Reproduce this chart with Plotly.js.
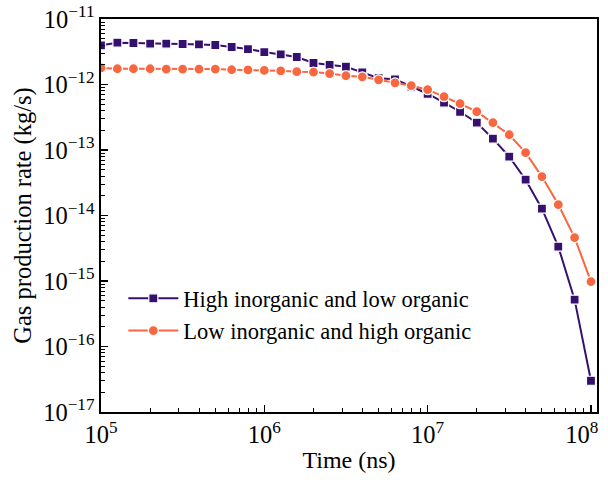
<!DOCTYPE html>
<html>
<head>
<meta charset="utf-8">
<script src="https://cdn.plot.ly/plotly-3.0.1.min.js"></script>
<style>html,body{margin:0;padding:0;background:#fff;}#chart{width:608px;height:483px;}</style>
</head>
<body>
<div id="chart"></div>
<script>
// Time points (ns): 10^(5 + 0.1k)
const timeNs = [1.0e5,1.26e5,1.58e5,2.0e5,2.51e5,3.16e5,3.98e5,5.01e5,6.31e5,7.94e5,
  1.0e6,1.26e6,1.58e6,2.0e6,2.51e6,3.16e6,3.98e6,5.01e6,6.31e6,7.94e6,
  1.0e7,1.26e7,1.58e7,2.0e7,2.51e7,3.16e7,3.98e7,5.01e7,6.31e7,7.94e7,1.0e8];

const highInorganic = [3.96e-12,4.35e-12,4.30e-12,4.20e-12,4.20e-12,4.15e-12,4.09e-12,4.01e-12,3.74e-12,3.48e-12,
  3.13e-12,2.88e-12,2.63e-12,2.13e-12,2.00e-12,1.87e-12,1.53e-12,1.25e-12,1.20e-12,9.25e-13,
  7.23e-13,5.27e-13,3.84e-13,2.61e-13,1.49e-13,7.91e-14,3.52e-14,1.27e-14,3.34e-15,5.19e-16,3.0e-17];

const lowInorganic = [1.79e-12,1.74e-12,1.74e-12,1.74e-12,1.72e-12,1.72e-12,1.72e-12,1.72e-12,1.68e-12,1.67e-12,
  1.64e-12,1.62e-12,1.57e-12,1.55e-12,1.47e-12,1.36e-12,1.31e-12,1.18e-12,1.06e-12,9.6e-13,
  8.33e-13,6.52e-13,5.09e-13,3.84e-13,2.61e-13,1.71e-13,9.1e-14,3.93e-14,1.47e-14,4.61e-15,9.8e-16];

const seriesNames = ["High inorganic and low organic", "Low inorganic and high organic"];

// Tick positions and labels
const xTickVals = [1e5, 1e6, 1e7, 1e8];
const xTickText = ["10<sup>5</sup>", "10<sup>6</sup>", "10<sup>7</sup>", "10<sup>8</sup>\u00A0\u00A0\u00A0"];
const yTickVals = [1e-17, 1e-16, 1e-15, 1e-14, 1e-13, 1e-12, 1e-11];
const yTickText = ["10<sup>\u221217</sup>", "10<sup>\u221216</sup>", "10<sup>\u221215</sup>", "10<sup>\u221214</sup>",
                   "10<sup>\u221213</sup>", "10<sup>\u221212</sup>", "10<sup>\u221211</sup>"];
const minorDigits = [2, 3, 4, 5, 6, 7, 8, 9];

function minorTicks(lo, hi) {
  const out = [];
  for (let e = lo; e < hi; e++) minorDigits.forEach(d => out.push(d * Math.pow(10, e)));
  return out;
}

const font = "Liberation Serif, Times New Roman, serif";

const traces = [
  {x: timeNs, y: highInorganic, name: seriesNames[0], mode: "lines+markers", type: "scatter",
   line: {color: "#36106f", width: 2},
   marker: {symbol: "square", size: 9, color: "#36106f", line: {color: "#ffffff", width: 1.2}}},
  {x: timeNs, y: lowInorganic, name: seriesNames[1], mode: "lines+markers", type: "scatter",
   line: {color: "#f8673f", width: 2},
   marker: {symbol: "circle", size: 10, color: "#f8673f", line: {color: "#ffffff", width: 1.2}}}
];

const layout = {
  width: 608, height: 483,
  margin: {l: 101, r: 11, t: 19, b: 71},
  paper_bgcolor: "#fff", plot_bgcolor: "#fff",
  font: {family: font, size: 22, color: "#000"},
  showlegend: true,
  legend: {x: 0.045, y: 0.343, xanchor: "left", yanchor: "top", bgcolor: "rgba(0,0,0,0)",
           font: {family: font, size: 22.5, color: "#000"}, itemwidth: 50, tracegroupgap: 0},
  xaxis: {type: "log", range: [5, 8.037], tickmode: "array", tickvals: xTickVals, ticktext: xTickText,
          ticklabeloverflow: "allow",
          showgrid: false, zeroline: false, showline: true, linecolor: "#000", linewidth: 1.6, mirror: true,
          ticks: "inside", ticklen: 7, tickwidth: 1.2, tickcolor: "#000",
          minor: {tickmode: "array", tickvals: minorTicks(5, 8), ticks: "inside", ticklen: 4, tickwidth: 1,
                  tickcolor: "#000", showgrid: false},
          tickfont: {family: font, size: 24.5},
          title: {text: "Time (ns)", font: {family: font, size: 24}, standoff: 4}},
  yaxis: {type: "log", range: [-17, -11], tickmode: "array", tickvals: yTickVals, ticktext: yTickText,
          ticklabeloverflow: "allow",
          showgrid: false, zeroline: false, showline: true, linecolor: "#000", linewidth: 1.6, mirror: true,
          ticks: "inside", ticklen: 7, tickwidth: 1.2, tickcolor: "#000",
          minor: {tickmode: "array", tickvals: minorTicks(-17, -11), ticks: "inside", ticklen: 4, tickwidth: 1,
                  tickcolor: "#000", showgrid: false},
          tickfont: {family: font, size: 24.5},
          title: {text: "Gas production rate (kg/s)", font: {family: font, size: 24.5}, standoff: 4}}
};

Plotly.newPlot("chart", traces, layout, {displayModeBar: false, staticPlot: true});
</script>
</body>
</html>
